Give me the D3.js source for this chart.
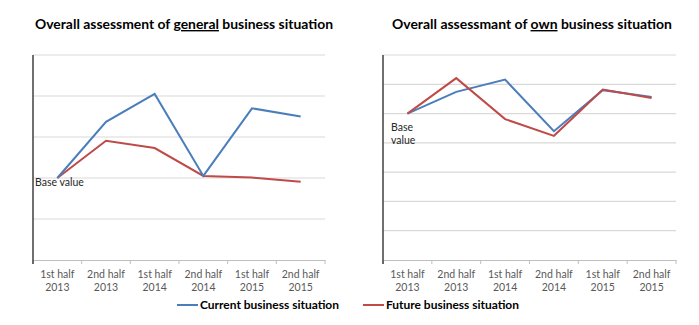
<!DOCTYPE html>
<html>
<head>
<meta charset="utf-8">
<script src="https://cdn.jsdelivr.net/npm/d3@7"></script>
<style>
  body { margin: 0; background: #fff; }
  svg text { font-family: Lato, "Open Sans", sans-serif; }
</style>
</head>
<body>
<svg width="699" height="325"></svg>
<script>
// half-year periods shown on both charts
var periods = [["1st half", "2013"], ["2nd half", "2013"], ["1st half", "2014"],
               ["2nd half", "2014"], ["1st half", "2015"], ["2nd half", "2015"]];

// general business situation (0 = base value)
var generalCurrent = [0, 1.37, 2.05, 0.05, 1.70, 1.50];
var generalFuture  = [0, 0.91, 0.73, 0.05, 0.01, -0.09];

// own business situation (0 = base value)
var ownCurrent = [0, 0.74, 1.16, -0.60, 0.80, 0.57];
var ownFuture  = [0, 1.21, -0.19, -0.76, 0.82, 0.53];

var blue = "#4a7ebb", red = "#be4b48";

var svg = d3.select("svg");

// shrink or grow a text node so it spans the given width
var fitWidth = function(sel, width, size) {
	var w = sel.node().getComputedTextLength();
	sel.attr("font-size", (size * width / w).toFixed(2) + "px");
};

var drawPanel = function(opts) {
	var g = svg.append("g");

	var x = d3.scaleBand()
		.domain(d3.range(periods.length))
		.range([opts.left, opts.right]);

	var y = d3.scaleLinear()
		.domain(opts.domain)
		.range([opts.bottom, opts.top]);

	// horizontal gridlines
	g.selectAll(".grid")
		.data(d3.range(opts.domain[0] + 1, opts.domain[1] + 1))
		.enter()
		.append("line")
		.attr("x1", opts.left)
		.attr("x2", opts.right)
		.attr("y1", function (d) { return y(d); })
		.attr("y2", function (d) { return y(d); })
		.attr("stroke", "#d9d9d9")
		.attr("stroke-width", 1.2);

	// category axis
	var xAxis = g.append("g")
		.attr("transform", "translate(0," + opts.bottom + ")")
		.call(d3.axisBottom(x).tickSize(0).tickFormat(""));
	xAxis.select(".domain").attr("stroke", "#bfbfbf").attr("stroke-width", 1.2);

	// tick marks sit between the categories
	g.selectAll(".tickmark")
		.data(d3.range(periods.length + 1))
		.enter()
		.append("line")
		.attr("x1", function (d) { return opts.left + d * x.step(); })
		.attr("x2", function (d) { return opts.left + d * x.step(); })
		.attr("y1", opts.bottom)
		.attr("y2", opts.bottom + 4)
		.attr("stroke", "#bfbfbf");

	var labels = g.selectAll(".xlabel")
		.data(periods)
		.enter()
		.append("text")
		.attr("text-anchor", "middle")
		.attr("font-size", "10.5px")
		.attr("fill", "#595959");
	labels.append("tspan")
		.attr("x", function (d, i) { return x(i) + x.bandwidth() / 2; })
		.attr("y", opts.bottom + 18)
		.text(function (d) { return d[0]; });
	labels.append("tspan")
		.attr("x", function (d, i) { return x(i) + x.bandwidth() / 2; })
		.attr("y", opts.bottom + 31)
		.text(function (d) { return d[1]; });

	// value axis line
	g.append("line")
		.attr("x1", opts.left)
		.attr("x2", opts.left)
		.attr("y1", opts.top)
		.attr("y2", opts.bottom + 4)
		.attr("stroke", "#404040")
		.attr("stroke-width", 1.5);

	var line = d3.line()
		.x(function (d, i) { return x(i) + x.bandwidth() / 2; })
		.y(function (d) { return y(d); });

	opts.series.forEach(function (s) {
		g.append("path")
			.datum(s.values)
			.attr("fill", "none")
			.attr("stroke", s.color)
			.attr("stroke-width", 2)
			.attr("d", line);
	});

	// base value note
	var note = g.append("text")
		.attr("font-size", "10.5px")
		.attr("fill", "#262626");
	opts.baseLabel.forEach(function (t, i) {
		note.append("tspan")
			.attr("x", opts.baseX)
			.attr("y", y(0) + opts.baseDy + i * 13)
			.text(t);
	});

	// title with the underlined word
	var title = g.append("text")
		.attr("x", opts.titleX)
		.attr("y", 29)
		.attr("font-size", "13px")
		.attr("font-weight", "bold")
		.attr("fill", "#000");
	title.append("tspan").text(opts.title[0]);
	title.append("tspan").attr("text-decoration", "underline").text(opts.title[1]);
	title.append("tspan").text(opts.title[2]);
	fitWidth(title, opts.titleWidth, 13);

	// legend entry
	var lg = g.append("g").attr("transform", "translate(" + opts.legendX + ",305)");
	lg.append("line")
		.attr("x1", 0).attr("x2", 21)
		.attr("stroke", opts.legend.color)
		.attr("stroke-width", 2);
	var lt = lg.append("text")
		.attr("x", 23)
		.attr("y", 4)
		.attr("font-size", "11px")
		.attr("font-weight", "bold")
		.attr("fill", "#000")
		.text(opts.legend.name);
	fitWidth(lt, opts.legendWidth, 11);
};

drawPanel({
	left: 33, right: 325, top: 55, bottom: 260,
	domain: [-2, 3],
	series: [
		{ values: generalFuture, color: red },
		{ values: generalCurrent, color: blue }
	],
	baseLabel: ["Base value"],
	baseX: 35, baseDy: 8,
	title: ["Overall assessment of ", "general", " business situation"],
	titleX: 35, titleWidth: 298,
	legendX: 177, legendWidth: 139,
	legend: { name: "Current business situation", color: blue }
});

drawPanel({
	left: 383, right: 676, top: 55, bottom: 260,
	domain: [-5, 2],
	series: [
		{ values: ownCurrent, color: blue },
		{ values: ownFuture, color: red }
	],
	baseLabel: ["Base", "value"],
	baseX: 391, baseDy: 17,
	title: ["Overall assessmant of ", "own", " business situation"],
	titleX: 392, titleWidth: 280,
	legendX: 363, legendWidth: 133,
	legend: { name: "Future business situation", color: red }
});
</script>
</body>
</html>
